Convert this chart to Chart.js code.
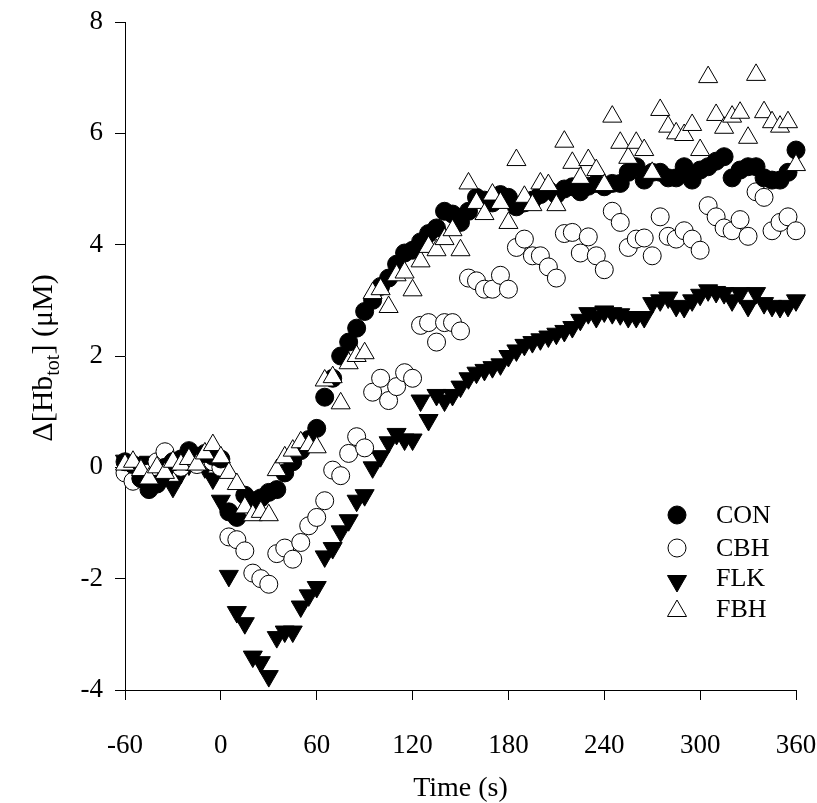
<!DOCTYPE html>
<html>
<head>
<meta charset="utf-8">
<script src="https://cdn.jsdelivr.net/npm/chart.js@4/dist/chart.umd.min.js"></script>
<style>
body { margin: 0; background: #fff; }
#wrap { width: 817px; height: 803px; }
</style>
</head>
<body>
<div id="wrap"><canvas id="myChart" width="817" height="803"></canvas></div>
<script>
var times = [-60, -55, -50, -45, -40, -35, -30, -25, -20, -15, -10, -5, 0,
    5, 10, 15, 20, 25, 30, 35, 40, 45, 50, 55, 60,
    65, 70, 75, 80, 85, 90, 95, 100, 105, 110, 115, 120,
    125, 130, 135, 140, 145, 150, 155, 160, 165, 170, 175, 180,
    185, 190, 195, 200, 205, 210, 215, 220, 225, 230, 235, 240,
    245, 250, 255, 260, 265, 270, 275, 280, 285, 290, 295, 300,
    305, 310, 315, 320, 325, 330, 335, 340, 345, 350, 355, 360];

var conValues = [0.1, 0.05, -0.2, -0.4, -0.3, 0.0, 0.1, 0.15, 0.3, 0.2, 0.25, 0.2, 0.15,
    -0.8, -0.9, -0.5, -0.6, -0.55, -0.45, -0.4, -0.1, 0.1, 0.3, 0.5, 0.7,
    1.26, 1.6, 2.0, 2.25, 2.5, 2.8, 3.0, 3.25, 3.4, 3.65, 3.85, 3.9,
    4.05, 4.2, 4.3, 4.6, 4.55, 4.4, 4.6, 4.85, 4.8, 4.75, 4.9, 4.85,
    4.68, 4.75, 4.8, 4.9, 4.98, 4.9, 5.0, 5.04, 4.95, 5.05, 5.1, 5.04,
    5.1, 5.1, 5.3, 5.4, 5.16, 5.3, 5.3, 5.2, 5.2, 5.4, 5.16, 5.34,
    5.4, 5.5, 5.58, 5.2, 5.34, 5.4, 5.4, 5.2, 5.16, 5.16, 5.3, 5.7];

var cbhValues = [-0.1, -0.25, -0.2, -0.1, 0.1, 0.28, 0.1, 0.0, 0.1, 0.05, 0.15, 0.1, 0.0,
    -1.25, -1.3, -1.5, -1.9, -2.0, -2.1, -1.55, -1.45, -1.65, -1.35, -1.05, -0.9,
    -0.6, -0.05, -0.15, 0.25, 0.55, 0.35, 1.35, 1.6, 1.2, 1.45, 1.7, 1.6,
    2.55, 2.6, 2.25, 2.6, 2.6, 2.45, 3.4, 3.35, 3.2, 3.2, 3.45, 3.2,
    3.95, 4.1, 3.8, 3.8, 3.6, 3.4, 4.2, 4.22, 3.85, 4.14, 3.8, 3.55,
    4.6, 4.4, 3.95, 4.1, 4.12, 3.8, 4.5, 4.15, 4.1, 4.25, 4.1, 3.9,
    4.7, 4.5, 4.3, 4.25, 4.45, 4.15, 4.95, 4.85, 4.25, 4.4, 4.5, 4.25];

var flkValues = [0.12, 0.08, 0.05, 0.1, 0.0, -0.15, -0.35, -0.1, 0.05, 0.1, 0.0, -0.2, -0.6,
    -1.95, -2.6, -2.8, -3.4, -3.5, -3.75, -3.05, -2.95, -2.95, -2.5, -2.3, -2.15,
    -1.6, -1.45, -1.15, -0.95, -0.6, -0.5, 0.0, 0.2, 0.45, 0.6, 0.5, 0.5,
    1.2, 0.85, 1.3, 1.2, 1.3, 1.45, 1.6, 1.7, 1.75, 1.8, 1.85, 2.0,
    2.1, 2.2, 2.25, 2.3, 2.35, 2.4, 2.45, 2.52, 2.65, 2.77, 2.7, 2.8,
    2.77, 2.75, 2.7, 2.7, 2.7, 2.95, 3.0, 3.05, 2.9, 2.88, 3.0, 3.1,
    3.18, 3.15, 3.13, 3.0, 3.13, 2.9, 3.13, 2.95, 2.9, 2.88, 2.9, 3.0];

var fbhValues = [0.05, 0.1, -0.05, -0.2, 0.0, -0.1, 0.1, 0.05, 0.15, 0.05, 0.25, 0.4, 0.18,
    -0.1, -0.3, -0.72, -0.86, -0.8, -0.86, -0.05, 0.18, 0.3, 0.45, 0.4, 0.36,
    1.56, 1.62, 1.15, 1.87, 2.0, 2.05, 3.13, 3.2, 2.88, 3.45, 3.5, 3.18,
    3.7, 3.96, 3.9, 4.1, 4.26, 3.9, 5.1, 4.75, 4.55, 4.9, 4.75, 4.39,
    5.52, 4.86, 4.71, 5.1, 5.07, 4.71, 5.85, 5.47, 5.2, 5.52, 5.34, 5.07,
    6.3, 5.83, 5.56, 5.83, 5.7, 5.29, 6.42, 6.12, 6.0, 5.97, 6.15, 5.7,
    7.01, 6.33, 6.1, 6.3, 6.37, 5.92, 7.05, 6.38, 6.2, 6.12, 6.2, 5.43];

var seriesNames = ['CON', 'CBH', 'FLK', 'FBH'];
var xTicks = [-60, 0, 60, 120, 180, 240, 300, 360];
var yTicks = [-4, -2, 0, 2, 4, 6, 8];

var serif = "'Liberation Serif', 'Times New Roman', serif";

function toPoints(vals) {
    var pts = [];
    for (var i = 0; i < times.length; i++) {
        pts.push({x: times[i], y: vals[i]});
    }
    return pts;
}

// marker look per series (legend reuses it)
var markers = {
    CON: {style: 'circle', radius: 9, rotation: 0, fill: '#000'},
    CBH: {style: 'circle', radius: 9, rotation: 0, fill: '#fff'},
    FLK: {style: 'triangle', radius: 11, rotation: 180, fill: '#000'},
    FBH: {style: 'triangle', radius: 11, rotation: 0, fill: '#fff'}
};

function makeSet(name, vals, order) {
    var m = markers[name];
    return {
        label: name,
        data: toPoints(vals),
        showLine: false,
        pointStyle: m.style,
        pointRadius: m.radius,
        pointRotation: m.rotation,
        pointBackgroundColor: m.fill,
        pointBorderColor: '#000',
        pointBorderWidth: 1,
        order: order,
        clip: false
    };
}

function drawMarker(ctx, m, x, y) {
    ctx.save();
    ctx.fillStyle = m.fill;
    ctx.strokeStyle = '#000';
    ctx.lineWidth = 1;
    ctx.beginPath();
    if (m.style === 'circle') {
        ctx.arc(x, y, m.radius, 0, Math.PI * 2);
    } else {
        var rad = m.rotation * Math.PI / 180;
        for (var k = 0; k < 3; k++) {
            var a = rad + k * 2 * Math.PI / 3;
            var px = x + Math.sin(a) * m.radius;
            var py = y - Math.cos(a) * m.radius;
            if (k === 0) ctx.moveTo(px, py); else ctx.lineTo(px, py);
        }
        ctx.closePath();
    }
    ctx.fill();
    ctx.stroke();
    ctx.restore();
}

var extras = {
    id: 'extras',
    afterDraw: function(chart) {
        var ctx = chart.ctx;
        // legend inside the plot, lower right
        var ly = [515, 548, 578, 609];
        ctx.save();
        ctx.font = '26px ' + serif;
        ctx.fillStyle = '#000';
        ctx.textBaseline = 'middle';
        ctx.textAlign = 'left';
        for (var i = 0; i < seriesNames.length; i++) {
            var m = markers[seriesNames[i]];
            var my = ly[i] + (m.style === 'triangle' ? (m.rotation ? 3 : 2) : 0);
            drawMarker(ctx, m, 677, my);
            ctx.fillText(seriesNames[i], 716, ly[i] + 1);
        }
        ctx.restore();

        // y axis title with subscript
        ctx.save();
        ctx.translate(42, 358);
        ctx.rotate(-Math.PI / 2);
        ctx.fillStyle = '#000';
        ctx.textBaseline = 'alphabetic';
        var big = '30px ' + serif, small = '20px ' + serif;
        var parts = [['\u0394[Hb', big, 0], ['tot', small, 7], ['] (\u03bcM)', big, 0]];
        var total = 0;
        for (var j = 0; j < parts.length; j++) {
            ctx.font = parts[j][1];
            total += ctx.measureText(parts[j][0]).width;
        }
        var x = -total / 2;
        for (var j = 0; j < parts.length; j++) {
            ctx.font = parts[j][1];
            ctx.fillText(parts[j][0], x, 10 + parts[j][2]);
            x += ctx.measureText(parts[j][0]).width;
        }
        ctx.restore();
    }
};

new Chart(document.getElementById('myChart'), {
    type: 'scatter',
    data: {
        datasets: [
            makeSet('FBH', fbhValues, 0),
            makeSet('CON', conValues, 1),
            makeSet('CBH', cbhValues, 2),
            makeSet('FLK', flkValues, 3)
        ]
    },
    options: {
        responsive: false,
        animation: false,
        layout: {padding: {left: 0, right: 21, top: 22, bottom: 0}},
        plugins: {
            legend: {display: false},
            tooltip: {enabled: false}
        },
        scales: {
            x: {
                type: 'linear',
                min: -60,
                max: 360,
                afterBuildTicks: function(scale) {
                    scale.ticks = xTicks.map(function(v) { return {value: v}; });
                },
                afterFit: function(scale) {
                    scale.height = 113;
                    scale.paddingLeft = 0;
                    scale.paddingRight = 0;
                },
                ticks: {font: {family: serif, size: 27}, color: '#000', padding: 30, maxRotation: 0},
                grid: {drawOnChartArea: false, drawTicks: true, tickLength: 10, color: '#000'},
                border: {display: true, color: '#000', width: 1},
                title: {display: true, text: 'Time (s)', color: '#000',
                    font: {family: serif, size: 28, lineHeight: 1}, padding: {top: 0, bottom: 0}}
            },
            y: {
                type: 'linear',
                min: -4,
                max: 8,
                afterBuildTicks: function(scale) {
                    scale.ticks = yTicks.map(function(v) { return {value: v}; });
                },
                afterFit: function(scale) {
                    scale.width = 125;
                    scale.paddingTop = 0;
                    scale.paddingBottom = 0;
                },
                ticks: {font: {family: serif, size: 27}, color: '#000', padding: 12},
                grid: {drawOnChartArea: false, drawTicks: true, tickLength: 10, color: '#000'},
                border: {display: true, color: '#000', width: 1}
            }
        }
    },
    plugins: [extras]
});
</script>
</body>
</html>
